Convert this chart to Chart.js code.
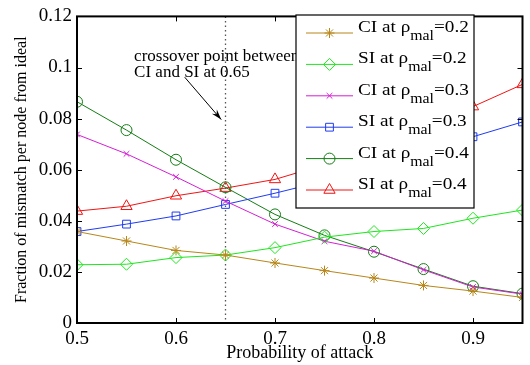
<!DOCTYPE html>
<html>
<head>
<meta charset="utf-8">
<script src="https://cdn.jsdelivr.net/npm/chart.js@4/dist/chart.umd.min.js"></script>
<style>
html, body { margin: 0; padding: 0; background: #fff; }
</style>
</head>
<body>
<canvas id="myChart" width="530" height="365"></canvas>
<script>
// probability of attack (x) and mismatch fraction per scheme / rho_mal
const attackProb = [0.5, 0.55, 0.6, 0.65, 0.7, 0.75, 0.8, 0.85, 0.9, 0.95]
const ci02 = [0.0358, 0.0321, 0.0284, 0.0266, 0.0235, 0.0205, 0.0176, 0.0147, 0.0125, 0.0100]
const si02 = [0.0228, 0.0230, 0.0256, 0.0266, 0.0295, 0.0336, 0.0358, 0.0370, 0.0410, 0.0442]
const ci03 = [0.0738, 0.0662, 0.0572, 0.0477, 0.0387, 0.0320, 0.0281, 0.0208, 0.0141, 0.0113]
const si03 = [0.0358, 0.0387, 0.0419, 0.0464, 0.0508, 0.0556, 0.0607, 0.0668, 0.0729, 0.0787]
const ci04 = [0.0866, 0.0755, 0.0639, 0.0531, 0.0425, 0.0343, 0.0279, 0.0211, 0.0144, 0.0115]
const si04 = [0.0438, 0.0457, 0.0498, 0.0528, 0.0562, 0.0620, 0.0690, 0.0770, 0.0847, 0.0934]
const xTicks = [0.5, 0.6, 0.7, 0.8, 0.9]
const yTicks = [0, 0.02, 0.04, 0.06, 0.08, 0.1, 0.12]
const crossover = 0.65

const serif = "'Liberation Serif', 'Times New Roman', serif"

function pts(arr){
	return arr.map((v, i) => ({x: attackProb[i], y: v}))
}

function series(scheme, rho, values, color, style, radius){
	return {
		scheme: scheme,
		rho: rho,
		data: pts(values),
		borderColor: color,
		backgroundColor: 'rgba(0,0,0,0)',
		pointBorderColor: color,
		pointBackgroundColor: 'rgba(0,0,0,0)',
		borderWidth: 1,
		pointBorderWidth: 1,
		pointStyle: style,
		pointRadius: radius,
		tension: 0
	}
}

const datasets = [
	series('CI', '0.2', ci02, '#b8861a', 'star', 5),
	series('SI', '0.2', si02, '#1ee61e', 'rectRot', 6),
	series('CI', '0.3', ci03, '#d41fd4', 'crossRot', 4),
	series('SI', '0.3', si03, '#1f3cf0', 'rect', 5.5),
	series('CI', '0.4', ci04, '#147d14', 'circle', 5.5),
	series('SI', '0.4', si04, '#f01414', 'triangle', 6.5)
]

// text drawn a little wider than the font's natural width
function wideText(ctx, text, x, y, sx){
	ctx.save()
	ctx.translate(x, y)
	ctx.scale(sx, 1)
	ctx.fillText(text, 0, 0)
	ctx.restore()
	return ctx.measureText(text).width * sx
}

// frame with inward ticks, dotted crossover line and the note + arrow
const framePlugin = {
	id: 'frame',
	beforeDatasetsDraw(chart){
		const ctx = chart.ctx
		const a = chart.chartArea
		const x = chart.scales.x.getPixelForValue(crossover)
		ctx.save()
		ctx.strokeStyle = '#555'
		ctx.lineWidth = 1.3
		ctx.setLineDash([1.5, 3])
		ctx.beginPath()
		ctx.moveTo(x, a.top)
		ctx.lineTo(x, a.bottom)
		ctx.stroke()
		ctx.restore()
	},
	afterDatasetsDraw(chart){
		const ctx = chart.ctx
		const a = chart.chartArea
		const xs = chart.scales.x
		const ys = chart.scales.y
		ctx.save()
		// note text
		ctx.fillStyle = '#000'
		ctx.font = '17px ' + serif
		ctx.textBaseline = 'alphabetic'
		ctx.fillText('crossover point between', xs.getPixelForValue(0.5577), ys.getPixelForValue(0.1026))
		ctx.fillText('CI and SI at 0.65', xs.getPixelForValue(0.5577), ys.getPixelForValue(0.0961))
		// arrow
		const x0 = xs.getPixelForValue(0.6088), y0 = ys.getPixelForValue(0.0962)
		const x1 = xs.getPixelForValue(0.6457), y1 = ys.getPixelForValue(0.0796)
		ctx.strokeStyle = '#000'
		ctx.lineWidth = 1
		ctx.beginPath()
		ctx.moveTo(x0, y0)
		ctx.lineTo(x1, y1)
		ctx.stroke()
		const ang = Math.atan2(y1 - y0, x1 - x0)
		ctx.beginPath()
		ctx.moveTo(x1, y1)
		ctx.lineTo(x1 - 11 * Math.cos(ang - 0.3), y1 - 11 * Math.sin(ang - 0.3))
		ctx.lineTo(x1 - 7 * Math.cos(ang), y1 - 7 * Math.sin(ang))
		ctx.lineTo(x1 - 11 * Math.cos(ang + 0.3), y1 - 11 * Math.sin(ang + 0.3))
		ctx.closePath()
		ctx.fill()

		// box
		ctx.lineWidth = 2
		ctx.strokeRect(a.left, a.top, a.right - a.left, a.bottom - a.top)
		ctx.lineWidth = 1
		ctx.beginPath()
		xTicks.forEach(v => {
			const p = Math.round(xs.getPixelForValue(v)) + 0.5
			ctx.moveTo(p, a.bottom); ctx.lineTo(p, a.bottom - 5)
			ctx.moveTo(p, a.top); ctx.lineTo(p, a.top + 5)
		})
		yTicks.forEach(v => {
			const p = Math.round(ys.getPixelForValue(v)) + 0.5
			ctx.moveTo(a.left, p); ctx.lineTo(a.left + 5, p)
			ctx.moveTo(a.right, p); ctx.lineTo(a.right - 5, p)
		})
		ctx.stroke()
		ctx.restore()
	},
	afterDraw(chart){
		// legend box, drawn by hand for the rho subscript
		const ctx = chart.ctx
		const box = {left: 296, top: 15, right: 474, bottom: 208}
		ctx.save()
		ctx.fillStyle = '#fff'
		ctx.fillRect(box.left, box.top, box.right - box.left, box.bottom - box.top)
		ctx.strokeStyle = '#000'
		ctx.lineWidth = 1.2
		ctx.strokeRect(box.left, box.top, box.right - box.left, box.bottom - box.top)
		chart.data.datasets.forEach((ds, i) => {
			const y = box.top + 18 + i * 31.4
			ctx.strokeStyle = ds.borderColor
			ctx.fillStyle = 'rgba(0,0,0,0)'
			ctx.lineWidth = 1
			ctx.beginPath()
			ctx.moveTo(306, y)
			ctx.lineTo(353, y)
			ctx.stroke()
			Chart.helpers.drawPoint(ctx, {
				pointStyle: ds.pointStyle,
				radius: ds.pointRadius,
				borderWidth: 1,
				rotation: 0
			}, 329.5, y)
			ctx.fillStyle = '#000'
			ctx.textBaseline = 'alphabetic'
			ctx.font = '17px ' + serif
			let tx = 358
			tx += wideText(ctx, ds.scheme + ' at \u03c1', tx, y - 1, 1.13)
			ctx.font = '14px ' + serif
			tx += wideText(ctx, 'mal', tx, y + 7, 1.13)
			ctx.font = '17px ' + serif
			wideText(ctx, '=' + ds.rho, tx, y - 1, 1.13)
		})
		ctx.restore()
	}
}

const context = document.getElementById('myChart')
const config = {
	type: 'line',
	data: { datasets: datasets },
	options: {
		responsive: false,
		animation: false,
		layout: { padding: { top: 10, right: 5, left: 0, bottom: 0 } },
		plugins: { legend: { display: false }, tooltip: { enabled: false } },
		scales: {
			x: {
				type: 'linear',
				min: 0.5,
				max: 0.95,
				grid: { display: false, drawTicks: false },
				border: { display: false },
				ticks: {
					stepSize: 0.1,
					includeBounds: false,
					padding: 5,
					color: '#000',
					font: { family: serif, size: 19 },
					callback: v => String(+v.toFixed(2))
				},
				title: {
					display: true,
					text: 'Probability of attack',
					color: '#000',
					font: { family: serif, size: 18 },
					padding: { top: 0, bottom: 1 }
				},
				afterFit: s => { s.height = 42 }
			},
			y: {
				min: 0,
				max: 0.12,
				grid: { display: false, drawTicks: false },
				border: { display: false },
				ticks: {
					stepSize: 0.02,
					padding: 5,
					color: '#000',
					font: { family: serif, size: 19 },
					callback: v => String(+v.toFixed(2))
				},
				title: {
					display: true,
					text: 'Fraction of mismatch per node from ideal',
					color: '#000',
					font: { family: serif, size: 16 },
					padding: { top: 12, bottom: 0 }
				},
				afterFit: s => { s.width = 77 }
			}
		}
	},
	plugins: [framePlugin]
}
const myChart = new Chart(context, config)
</script>
</body>
</html>
